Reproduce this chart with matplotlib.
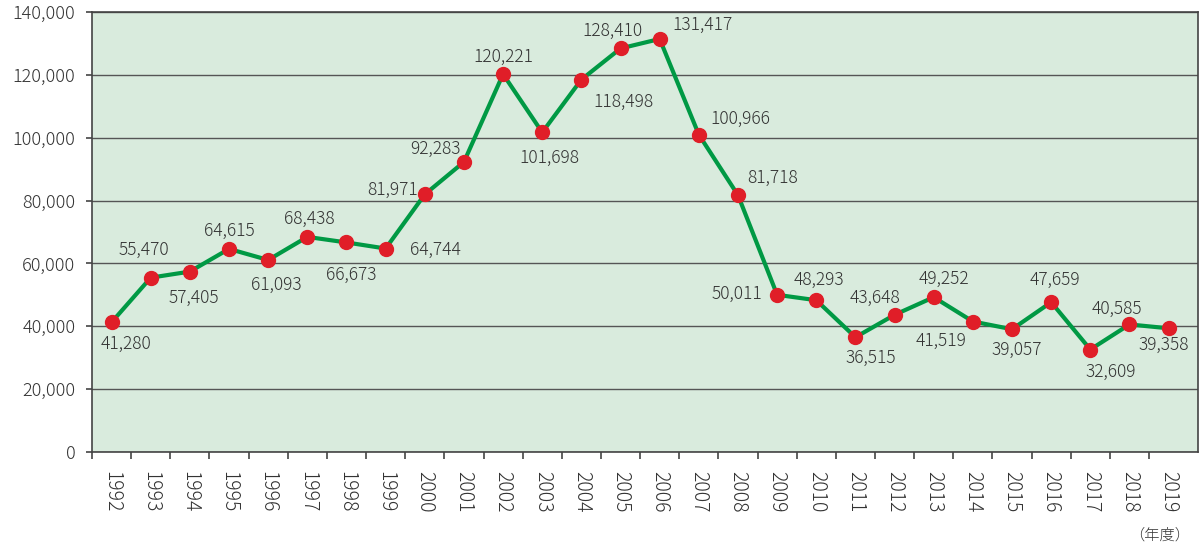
import numpy as np
import matplotlib
matplotlib.use("Agg")
from matplotlib import pyplot as plt
from matplotlib.ticker import FuncFormatter, FixedLocator

# data
years = [str(y) for y in range(1992, 2020)]
counts = [41280, 55470, 57405, 64615, 61093, 68438, 66673, 64744,
          81971, 92283, 120221, 101698, 118498, 128410, 131417, 100966,
          81718, 50011, 48293, 36515, 43648, 49252, 41519, 39057,
          47659, 32609, 40585, 39358]
unit_label = "（年度）"

# label offsets in pixels (dx right, dy down) from each point
label_offsets = [(14, 22), (-7, -28), (4, 26), (0, -18), (8, 25), (2, -18),
                 (5, 32), (50, 1), (-32, -5), (-28, -13), (0, -17), (7, 25),
                 (42, 22), (-8, -18), (43, -14), (41, -16), (35, -17),
                 (-40, -1), (3, -20), (15, 21), (-20, -17), (10, -18),
                 (-32, 19), (5, 21), (4, -22), (20, 22), (-13, -16), (-5, 17)]

plt.rcParams['font.family'] = ['Noto Sans CJK JP', 'DejaVu Sans']
plt.rcParams['font.weight'] = 'light'
text_col = '#333333'

fig = plt.figure(figsize=(11.99, 5.44), dpi=100)
ax = fig.add_axes([92/1199, 1 - 452/544, 1106/1199, 440/544])
ax.set_facecolor('#d9ebdd')

x = np.arange(len(years))
ax.plot(x, counts, color='#009944', lw=3, zorder=3)
ax.plot(x, counts, 'o', color='#e01e28', markersize=10, zorder=4)

for i, v in enumerate(counts):
    dx, dy = label_offsets[i]
    ax.annotate(f"{v:,}", (x[i], v), xytext=(dx, -dy), textcoords='offset pixels',
                ha='center', va='center', fontsize=12.5, color=text_col, zorder=5)

ax.set_ylim(0, 140000)
ax.set_yticks(np.arange(0, 140001, 20000))
ax.yaxis.set_major_formatter(FuncFormatter(lambda v, p: f"{int(v):,}"))
ax.grid(axis='y', color='#555555', lw=1, zorder=1)
ax.set_axisbelow(True)

ax.set_xlim(-0.5, 27.75)
ax.set_xticks(x)
ax.set_xticklabels(years, rotation=270)
ax.xaxis.set_minor_locator(FixedLocator(np.arange(-0.5, 27, 1.0)))
ax.tick_params(axis='x', which='major', length=0, pad=14, labelsize=14, labelcolor=text_col)
ax.tick_params(axis='x', which='minor', length=5, width=1.2, color='#444444')
ax.tick_params(axis='y', length=4, width=1.2, color='#444444', pad=8,
               labelsize=13, labelcolor=text_col)

for s in ax.spines.values():
    s.set_color('#444444')
    s.set_linewidth(1.2)

fig.text(1160/1199, 1 - 535/544, unit_label, ha='center', va='center',
         fontsize=11, color=text_col)

fig.savefig('out.png', dpi=100)
